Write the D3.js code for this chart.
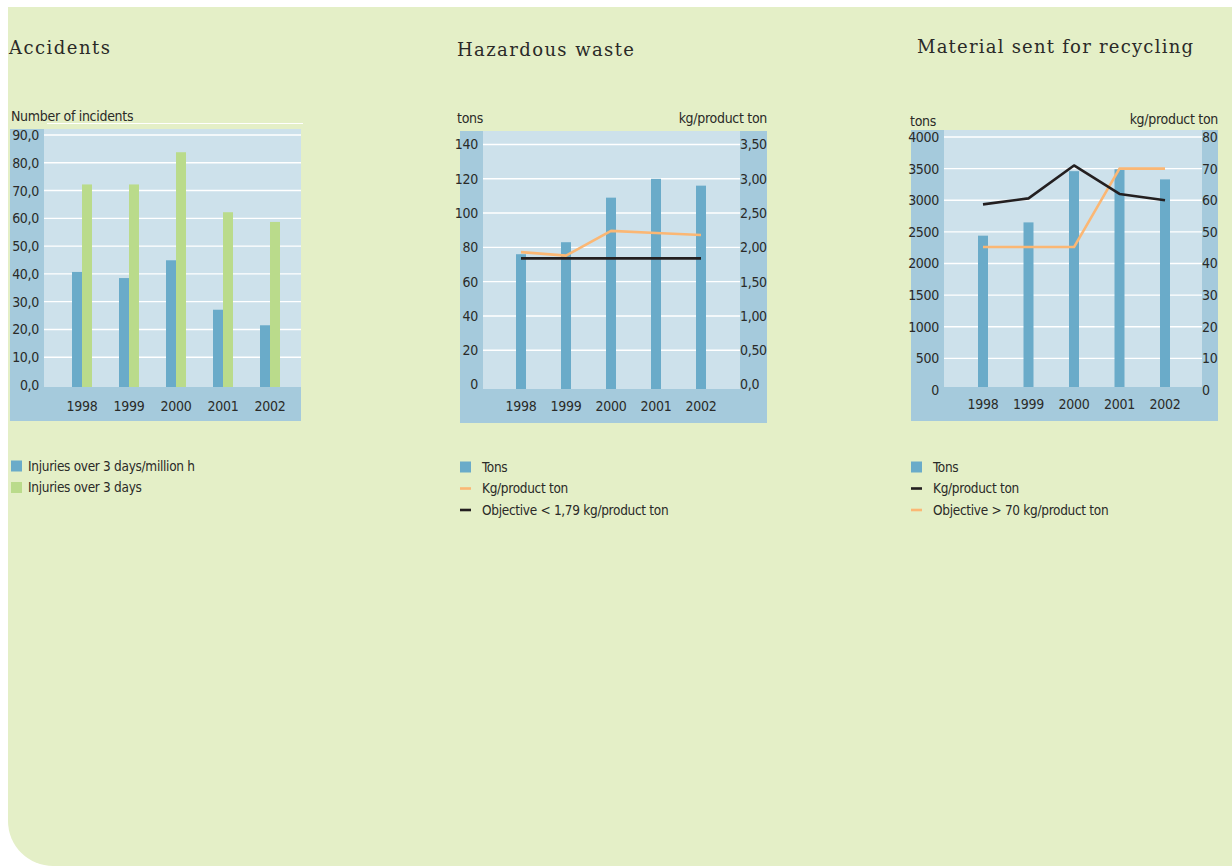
<!DOCTYPE html>
<html>
<head>
<meta charset="utf-8">
<script src="https://cdn.jsdelivr.net/npm/d3@7"></script>
<style>
  html, body { margin: 0; padding: 0; background: #fff; }
  svg { display: block; }
  .sans { font-family: 'DejaVu Sans Condensed', 'Liberation Sans Narrow', 'Roboto', sans-serif; letter-spacing: -0.3px; }
  .serif { font-family: 'DejaVu Serif', 'Liberation Serif', serif; }
</style>
</head>
<body>
<script>
// values
const years = ['1998', '1999', '2000', '2001', '2002'];

const injuriesPerMillion = [40.7, 38.5, 44.9, 27.1, 21.5];
const injuriesOver3Days = [72.2, 72.2, 83.8, 62.2, 58.7];
const accidentTicks = [0, 10, 20, 30, 40, 50, 60, 70, 80, 90];

const hazardTons = [76, 83, 109, 120, 116];
const hazardKg = [1.93, 1.88, 2.24, 2.21, 2.18];
const hazardObjective = [1.84, 1.84, 1.84, 1.84, 1.84];
const hazardTonTicks = [0, 20, 40, 60, 80, 100, 120, 140];
const hazardKgTicks = [0, 0.5, 1, 1.5, 2, 2.5, 3, 3.5];

const recyclingTons = [2440, 2650, 3460, 3490, 3330];
const recyclingKg = [58.7, 60.6, 71.0, 62.0, 60.0];
const recyclingObjective = [45.2, 45.2, 45.2, 70, 70];
const recyclingTonTicks = [0, 500, 1000, 1500, 2000, 2500, 3000, 3500, 4000];
const recyclingKgTicks = [0, 10, 20, 30, 40, 50, 60, 70, 80];

const colors = {
  page: '#e4efc7',
  panel: '#a5cadc',
  plot: '#cde1eb',
  blue: '#6aabc9',
  green: '#badb8b',
  orange: '#fbb774',
  black: '#231f20',
  text: '#2a2a28'
};

const svg = d3.select('body').append('svg')
  .attr('width', 1232)
  .attr('height', 866);

// green page with rounded bottom-left corner
svg.append('path')
  .attr('d', 'M8,7 H1232 V866 H53 A45,45 0 0 1 8,821 Z')
  .attr('fill', colors.page);

const comma = f => d => d3.format(f)(d).replace('.', ',');

const charts = [
  {
    title: 'Accidents', titleX: 9, titleY: 54, titleW: 101,
    panel: { x: 10, y: 129, w: 291, h: 292 },
    plot: { x: 44, y: 129, w: 257, h: 258 },
    xRange: [82, 270], yRange: [385, 135], yearY: 411,
    left: { domain: [0, 90], ticks: accidentTicks, format: comma('.1f'), label: 'Number of incidents', labelX: 11, labelY: 121 },
    bars: [
      { values: injuriesPerMillion, color: colors.blue, offset: -10 },
      { values: injuriesOver3Days, color: colors.green, offset: 0 }
    ],
    lines: [],
    legendX: 11, legendY: 466,
    legend: [
      { type: 'rect', color: colors.blue, text: 'Injuries over 3 days/million h' },
      { type: 'rect', color: colors.green, text: 'Injuries over 3 days' }
    ]
  },
  {
    title: 'Hazardous waste', titleX: 457, titleY: 56, titleW: 177,
    panel: { x: 460, y: 131, w: 307, h: 292 },
    plot: { x: 483, y: 131, w: 257, h: 258 },
    xRange: [521, 701], yRange: [384.5, 144.5], yearY: 411,
    left: { domain: [0, 140], ticks: hazardTonTicks, format: d3.format('d'), label: 'tons', labelX: 457, labelY: 123 },
    right: { domain: [0, 3.5], ticks: hazardKgTicks, format: d => d === 0 ? '0,0' : comma('.2f')(d), label: 'kg/product ton', labelY: 123 },
    bars: [{ values: hazardTons, color: colors.blue, offset: -5 }],
    lines: [
      { values: hazardObjective, color: colors.black },
      { values: hazardKg, color: colors.orange }
    ],
    legendX: 460, legendY: 467,
    legend: [
      { type: 'rect', color: colors.blue, text: 'Tons' },
      { type: 'line', color: colors.orange, text: 'Kg/product ton' },
      { type: 'line', color: colors.black, text: 'Objective < 1,79 kg/product ton' }
    ]
  },
  {
    title: 'Material sent for recycling', titleX: 917, titleY: 53, titleW: 276,
    panel: { x: 911, y: 130, w: 307, h: 291 },
    plot: { x: 944, y: 130, w: 258, h: 257 },
    xRange: [983, 1165], yRange: [390, 137], yearY: 409,
    left: { domain: [0, 4000], ticks: recyclingTonTicks, format: d3.format('d'), label: 'tons', labelX: 910, labelY: 126 },
    right: { domain: [0, 80], ticks: recyclingKgTicks, format: d3.format('d'), label: 'kg/product ton', labelY: 124 },
    bars: [{ values: recyclingTons, color: colors.blue, offset: -5 }],
    lines: [
      { values: recyclingObjective, color: colors.orange },
      { values: recyclingKg, color: colors.black }
    ],
    legendX: 911, legendY: 467,
    legend: [
      { type: 'rect', color: colors.blue, text: 'Tons' },
      { type: 'line', color: colors.black, text: 'Kg/product ton' },
      { type: 'line', color: colors.orange, text: 'Objective > 70 kg/product ton' }
    ]
  }
];

charts.forEach(drawChart);

function drawChart(c) {
  const g = svg.append('g');
  const plotBottom = c.plot.y + c.plot.h;
  const plotRight = c.plot.x + c.plot.w;

  g.append('text')
    .attr('class', 'serif')
    .attr('x', c.titleX)
    .attr('y', c.titleY)
    .attr('font-size', 18)
    .attr('textLength', c.titleW)
    .attr('lengthAdjust', 'spacing')
    .attr('fill', colors.text)
    .text(c.title);

  g.append('rect')
    .attr('x', c.panel.x).attr('y', c.panel.y)
    .attr('width', c.panel.w).attr('height', c.panel.h)
    .attr('fill', colors.panel);

  g.append('rect')
    .attr('x', c.plot.x).attr('y', c.plot.y)
    .attr('width', c.plot.w).attr('height', c.plot.h)
    .attr('fill', colors.plot);

  const x = d3.scalePoint().domain(years).range(c.xRange);
  const y = d3.scaleLinear().domain(c.left.domain).range(c.yRange);

  // gridlines
  g.append('g')
    .selectAll('line')
    .data(c.left.ticks.filter(t => t > 0))
    .enter()
    .append('line')
    .attr('x1', c.plot.x)
    .attr('x2', plotRight)
    .attr('y1', d => y(d))
    .attr('y2', d => y(d))
    .attr('stroke', '#fff')
    .attr('stroke-width', 1.4);

  // left axis
  const leftAxis = d3.axisLeft(y).tickValues(c.left.ticks).tickFormat(c.left.format).tickSize(0).tickPadding(0);
  const $left = g.append('g')
    .attr('transform', `translate(${c.plot.x - 5},0)`)
    .call(leftAxis);
  styleAxis($left);

  if (c.right) {
    const y2 = d3.scaleLinear().domain(c.right.domain).range(c.yRange);
    const rightAxis = d3.axisRight(y2).tickValues(c.right.ticks).tickFormat(c.right.format).tickSize(0).tickPadding(0);
    const $right = g.append('g')
      .attr('transform', `translate(${plotRight},0)`)
      .call(rightAxis);
    styleAxis($right);

    g.append('text')
      .attr('class', 'sans')
      .attr('x', c.panel.x + c.panel.w)
      .attr('y', c.right.labelY)
      .attr('text-anchor', 'end')
      .attr('font-size', 14)
      .attr('fill', colors.text)
      .text(c.right.label);

    c.lines.forEach(l => {
      l.scale = y2;
    });
  }

  g.append('text')
    .attr('class', 'sans')
    .attr('x', c.left.labelX)
    .attr('y', c.left.labelY)
    .attr('font-size', 14)
    .attr('fill', colors.text)
    .text(c.left.label);

  if (!c.right) {
    // thin white rule under the axis title
    g.append('line')
      .attr('x1', c.plot.x + 3)
      .attr('x2', plotRight + 2)
      .attr('y1', c.left.labelY + 2.5)
      .attr('y2', c.left.labelY + 2.5)
      .attr('stroke', '#fff')
      .attr('stroke-width', 1);
  }

  // bars
  c.bars.forEach(b => {
    g.append('g')
      .selectAll('rect')
      .data(b.values)
      .enter()
      .append('rect')
      .attr('x', (d, i) => x(years[i]) + b.offset)
      .attr('y', d => y(d))
      .attr('width', 10)
      .attr('height', d => plotBottom - y(d))
      .attr('fill', b.color);
  });

  // lines
  c.lines.forEach(l => {
    const line = d3.line()
      .x((d, i) => x(years[i]))
      .y(d => l.scale(d));
    g.append('path')
      .datum(l.values)
      .attr('d', line)
      .attr('fill', 'none')
      .attr('stroke', l.color)
      .attr('stroke-width', 2.6)
      .attr('stroke-linejoin', 'round');
  });

  // year labels
  g.append('g')
    .selectAll('text')
    .data(years)
    .enter()
    .append('text')
    .attr('class', 'sans')
    .attr('x', d => x(d))
    .attr('y', c.yearY)
    .attr('text-anchor', 'middle')
    .attr('font-size', 14)
    .attr('fill', colors.text)
    .text(d => d);

  // legend
  const $legend = g.append('g')
    .selectAll('g')
    .data(c.legend)
    .enter()
    .append('g')
    .attr('transform', (d, i) => `translate(${c.legendX},${c.legendY + i * 21.5})`);

  $legend.each(function (d) {
    const $item = d3.select(this);
    if (d.type === 'rect') {
      $item.append('rect')
        .attr('x', 0).attr('y', -5.5)
        .attr('width', 11).attr('height', 11)
        .attr('fill', d.color);
    } else {
      $item.append('line')
        .attr('x1', 0).attr('x2', 11)
        .attr('y1', 0).attr('y2', 0)
        .attr('stroke', d.color)
        .attr('stroke-width', 2.6);
    }
  });

  $legend.append('text')
    .attr('class', 'sans')
    .attr('x', c.legend[0].text === 'Tons' ? 22 : 17)
    .attr('dy', '0.35em')
    .attr('font-size', 13.5)
    .attr('fill', colors.text)
    .text(d => d.text);
}

function styleAxis($axis) {
  $axis.select('.domain').remove();
  $axis.attr('font-family', null);
  $axis.selectAll('text')
    .attr('class', 'sans')
    .attr('font-size', 14)
    .attr('fill', colors.text);
}
</script>
</body>
</html>
